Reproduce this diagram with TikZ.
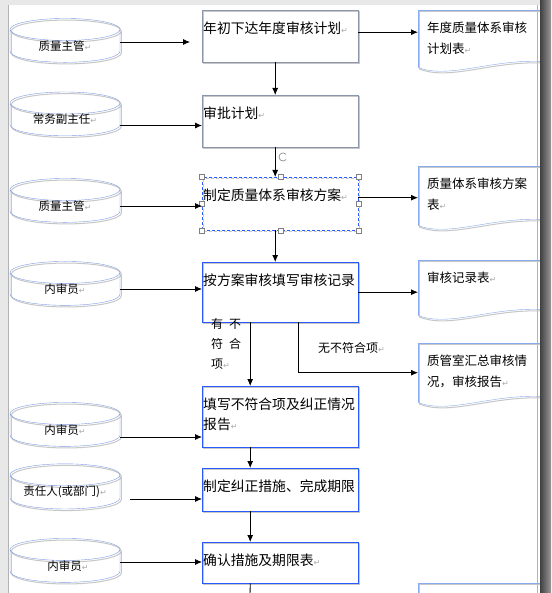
\documentclass[tikz,border=0pt]{standalone}
\usepackage{fontspec}
\setmainfont{Noto Sans CJK SC}
\newfontfamily\symfont{DejaVu Sans}
\usetikzlibrary{arrows.meta, shapes.geometric}
\definecolor{boxgray}{RGB}{140,150,170}
\definecolor{selblue}{RGB}{40,90,255}
\definecolor{cylblue}{RGB}{125,155,230}
\definecolor{docblue}{RGB}{135,170,240}
\definecolor{retgray}{RGB}{170,170,170}
\newcommand{\ret}{{\symfont\fontsize{8}{8}\selectfont\color{retgray}↵}}

\begin{document}
\begin{tikzpicture}[x=1pt,y=-1pt,>={Latex[length=7pt,width=6pt]},
  shade/.style={preaction={draw=black!22, line width=1pt, transform canvas={shift={(1.3pt,-1.6pt)}}}},
  person/.style={cylinder, shape border rotate=90, aspect=0.22, draw=cylblue, shade, minimum width=110pt, minimum height=24pt, text width=100pt, align=center, inner sep=0pt, font=\fontsize{11.5}{14}\selectfont},
  stepbox/.style={draw=boxgray, shade, anchor=north west, minimum width=156pt, text width=154pt, inner xsep=1pt, inner ysep=0pt, align=left, text height=23pt, text depth=#1, font=\fontsize{13.8}{20}\selectfont},
  docbox/.style={anchor=north west, text width=104pt, inner xsep=9pt, inner ysep=0pt, align=left, text height=22pt, text depth=#1, font=\fontsize{12.5}{21}\selectfont},
  docline/.style={draw=docblue, shade},
  handle/.style={draw=gray, fill=white, minimum size=5pt, inner sep=0pt},
  lbl/.style={font=\fontsize{12}{20}\selectfont, inner sep=0pt, align=left},
  arrow/.style={->, line width=0.8pt}]
\clip (0,0) rectangle (551,593);
\useasboundingbox (0,0) rectangle (551,593);
% page
\fill[black!9] (0,0) rectangle (551,593);
\fill[white] (8,5) rectangle (540,593);
\draw[black!30] (8,5) -- (8,593);
\draw[black!30] (537,5) -- (537,593);

% who
\node[person] (c1) at (65,46) {质量主管\ret\hspace{12pt}};
\node[person] (c2) at (65,119.5) {常务副主任\ret\hspace{4pt}};
\node[person] (c3) at (65,206) {质量主管\ret};
\node[person] (c4) at (65,289) {内审员\ret\hspace{20pt}};
\node[person] (c5) at (65,430) {内审员\ret\hspace{20pt}};
\node[person] (c6) at (65,492) {责任人(或部门)\ret};
\node[person] (c7) at (65,566) {\hspace{6pt}内审员\ret};

% steps
\node[stepbox=29pt] (b1) at (202,10) {年初下达年度审核计划\ret};
\node[stepbox=29pt] (b2) at (202,95) {审批计划\ret};
\node[stepbox=30pt, draw=selblue, densely dashed] (b3) at (202,177) {制定质量体系审核方案\ret};
\node[stepbox=37pt, draw=selblue] (b4) at (202,262) {按方案审核填写审核记录};
\node[stepbox=38pt, draw=selblue] (b5) at (202,386) {填写不符合项及纠正情况\\报告\ret};
\node[stepbox=20pt, draw=selblue] (b6) at (202,468) {制定纠正措施、完成期限};
\node[stepbox=18pt, draw=selblue] (b7) at (202,542) {确认措施及期限表\ret};

% records
\node[docbox=35pt] (d1) at (418,10) {年度质量体系审核\\计划表\ret};
\node[docbox=37pt] (d2) at (418,166) {质量体系审核方案\\表\ret};
\node[docbox=33pt] (d3) at (418,260) {审核记录表\ret};
\node[docbox=37pt] (d4) at (418,343) {质管室汇总审核情\\况，审核报告\ret};
\node[docbox=10pt] (d5) at (418,583) {};
\foreach \d in {d1,d2,d3,d4,d5} {
  \draw[docline] (\d.south west) -- (\d.north west) -- (\d.north east);
  \draw[docline] (\d.south west) .. controls +(30,12) and +(-50,-2) .. ([yshift=6pt]\d.south east);
}

% selection of b3
\foreach \a [count=\i] in {north west,north,north east,east,south east,south,south west,west}
  \node[handle] (h\i) at (b3.\a) {};
\draw[black!45, line width=0.7pt] (283,157) ++(40:4) arc (40:320:4);

% connectors
\draw[arrow, shorten >=12pt] ([yshift=4pt]c1.east) -- ([yshift=4pt]c1.east -| b1.west);
\draw[arrow] ([yshift=-6pt]c2.east) -- ([yshift=-6pt]c2.east -| b2.west);
\draw[arrow] (c3.east) -- (c3.east -| b3.west);
\draw[arrow] (c4.east) -- (c4.east -| b4.west);
\draw[arrow] ([yshift=-7pt]c5.east) -- ([yshift=-7pt]c5.east -| b5.west);
\draw[arrow, shorten <=10pt] ([yshift=-7pt]c6.east) -- ([yshift=-7pt]c6.east -| b6.west);
\draw[arrow] ([yshift=4pt]c7.east) -- ([yshift=4pt]c7.east -| b7.west);

\draw[arrow] ([xshift=-5pt]b1.south) -- ([xshift=-5pt]b2.north);
\draw[arrow] ([xshift=-5pt]b2.south) -- ([xshift=-5pt]b3.north);
\draw[arrow] ([xshift=-5pt]b3.south) -- ([xshift=-5pt]b4.north);
\draw[arrow] ([xshift=-30pt]b4.south) -- ([xshift=-30pt]b5.north);
\draw[arrow] ([xshift=-30pt]b5.south) -- ([xshift=-30pt]b6.north);
\draw[arrow] ([xshift=-30pt]b6.south) -- ([xshift=-30pt]b7.north);
\coordinate (out) at (250,600);
\draw[line width=0.8pt] ([xshift=-30pt]b7.south) -- (out);

\draw[arrow] ([yshift=4pt]b1.east) -- ([yshift=4pt]b1.east -| d1.west);
\draw[arrow] ([yshift=6pt]b3.east) -- ([yshift=6pt]b3.east -| d2.west);
\draw[arrow] (b4.east) -- (b4.east -| d3.west);
\draw[arrow] ([xshift=18pt]b4.south) |- (d4.west);

\node[lbl, anchor=north west] (yes) at (211,318) {有\,\,\,不\\符\,\,\,合\\项\ret};
\node[lbl, anchor=west] (no) at (318,348) {无不符合项\ret};

% right edge of the page
\shade[left color=black!75, right color=black!40] (540,0) rectangle (551,593);
\end{tikzpicture}
\end{document}
